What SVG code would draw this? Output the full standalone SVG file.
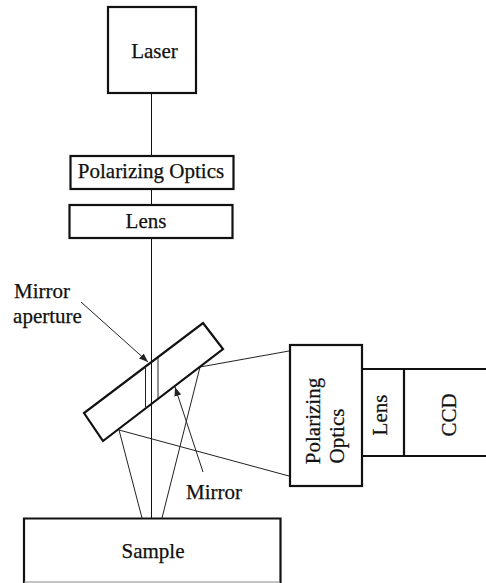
<svg xmlns="http://www.w3.org/2000/svg" width="486" height="583" viewBox="0 0 486 583">
<style>
.box{fill:#fff;stroke:#111;stroke-width:2.2}
.outline{fill:none;stroke:#111;stroke-width:2.2}
.thin{fill:none;stroke:#222;stroke-width:1}
.beam{fill:none;stroke:#111;stroke-width:1}
text{font-family:"Liberation Serif","Times New Roman",serif;font-size:21px;fill:#111;stroke:#111;stroke-width:0.25;text-anchor:middle}
</style>
<defs>
<marker id="arrow" markerUnits="userSpaceOnUse" markerWidth="10" markerHeight="8" refX="9" refY="4" orient="auto"><path d="M0 0.500L9 4L0 7.500Z" fill="#222"/></marker>
</defs>
<rect width="486" height="583" fill="#fff"/>
<g id="connectors">
<path class="beam" d="M151.500 93V518"/>
<path class="thin" d="M200 367L289 351M119 430L289 476M119 430L142 518M200 367L162 518"/>
<path class="thin" d="M81 302L148 362" marker-end="url(#arrow)"/>
<path class="thin" d="M203 472L175 387" marker-end="url(#arrow)"/>
</g>
<g id="laser"><rect class="box" x="108" y="7" width="88" height="86"/><text x="154.500" y="58">Laser</text></g>
<g id="polarizing-optics-top"><rect class="box" x="70.500" y="156" width="163" height="33"/><text x="151" y="178">Polarizing Optics</text></g>
<g id="lens-top"><rect class="box" x="69.500" y="205" width="163" height="33"/><text x="146" y="228">Lens</text></g>
<g id="mirror"><path class="outline" d="M203 323L223 349L103 441L84 413Z"/><path class="thin" d="M145.500 365V407M158 358V398"/></g>
<g id="mirror-aperture-label"><text x="42" y="298">Mirror</text><text x="47.500" y="323">aperture</text></g>
<g id="mirror-label"><text x="214" y="499">Mirror</text></g>
<g id="polarizing-optics-side"><rect class="box" x="290" y="345" width="72" height="141"/><text transform="translate(320 421) rotate(-90)">Polarizing</text><text transform="translate(344 436) rotate(-90)">Optics</text></g>
<g id="lens-side"><path class="outline" d="M362 369H404V456H362"/><text transform="translate(387 415) rotate(-90)">Lens</text></g>
<g id="ccd"><path class="outline" d="M404 369H486M404 456H486"/><text transform="translate(456 415) rotate(-90)">CCD</text></g>
<g id="sample"><path class="box" d="M24 583V518.500H280.500V583"/><path d="M24 582H280" stroke="#888" stroke-width="1"/><text x="153" y="558">Sample</text></g>
</svg>
